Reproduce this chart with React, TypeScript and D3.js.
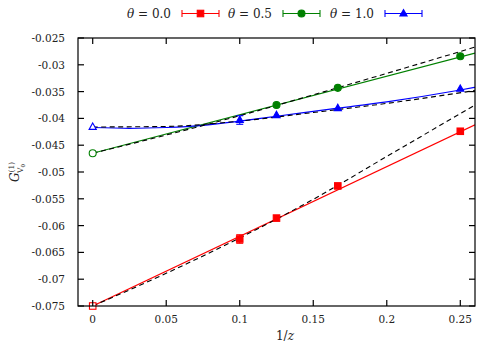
import React from "react";
import * as d3 from "d3";

// measured points: x = 1/z
const XS = [0, 0.1, 0.125, 0.1667, 0.25];
const RED = [-0.075, -0.0625, -0.0586, -0.0526, -0.0424];
const GREEN = [-0.0465, null, -0.0375, -0.0343, -0.0284];
const BLUE = [-0.0416, -0.0403, -0.0394, -0.0381, -0.0345];
const RED_ERR = [0, 0.0008, 0, 0, 0];
const GREEN_ERR = [0, 0, 0, 0, 0];
const BLUE_ERR = [0, 0.0008, 0, 0, 0];

// fit curves: [1/z, G]
const RED_FIT: [number, number][] = [[0, -0.075], [0.26, -0.0412]];
const GREEN_FIT: [number, number][] = [[0, -0.0465], [0.26, -0.0278]];
const BLUE_FIT: [number, number][] = [
  [0, -0.0417], [0.025, -0.04185], [0.05, -0.0417], [0.075, -0.0413], [0.1, -0.0405],
  [0.125, -0.0396], [0.1667, -0.0381], [0.2, -0.0369], [0.25, -0.0347], [0.26, -0.0342],
];
const RED_DASH: [number, number][] = [
  [0, -0.075], [0.05, -0.0689], [0.1, -0.0623], [0.15, -0.0551], [0.2, -0.0471], [0.26, -0.0375],
];
const GREEN_DASH: [number, number][] = [
  [0, -0.0465], [0.05, -0.0431], [0.1, -0.0395], [0.15, -0.0356], [0.2, -0.0316], [0.26, -0.0267],
];
const BLUE_DASH: [number, number][] = [
  [0, -0.0416], [0.05, -0.0415], [0.1, -0.0405], [0.15, -0.0389], [0.2, -0.0372], [0.26, -0.0348],
];

const X_TICKS = [0, 0.05, 0.1, 0.15, 0.2, 0.25];
const X_LABELS = ["0", "0.05", "0.1", "0.15", "0.2", "0.25"];
const Y_TICKS = [-0.025, -0.03, -0.035, -0.04, -0.045, -0.05, -0.055, -0.06, -0.065, -0.07, -0.075];
const Y_LABELS = ["-0.025", "-0.03", "-0.035", "-0.04", "-0.045", "-0.05", "-0.055", "-0.06", "-0.065", "-0.07", "-0.075"];
const THETAS = ["0.0", "0.5", "1.0"];

const W = 497;
const H = 348;
const L = 78, R = 475, T = 38, B = 306;
const FONT = '"DejaVu Serif", "Liberation Serif", serif';
const txt = (size: number) => ({ fontFamily: FONT, fontSize: size + "px", fill: "#222" });

const x = d3.scaleLinear().domain([-0.01, 0.26]).range([L, R]);
const y = d3.scaleLinear().domain([-0.075, -0.025]).range([B, T]);

const SERIES = [
  { name: "red", color: "#ff0000", vals: RED, err: RED_ERR, fit: RED_FIT, dash: RED_DASH, marker: "square" },
  { name: "green", color: "#008000", vals: GREEN, err: GREEN_ERR, fit: GREEN_FIT, dash: GREEN_DASH, marker: "circle" },
  { name: "blue", color: "#0000ff", vals: BLUE, err: BLUE_ERR, fit: BLUE_FIT, dash: BLUE_DASH, marker: "triangle" },
];

function Marker({ kind, cx, cy, color, open }: { kind: string; cx: number; cy: number; color: string; open: boolean }) {
  const fill = open ? "white" : color;
  if (kind === "square") {
    const s = 6.5;
    return <rect x={cx - s / 2} y={cy - s / 2} width={s} height={s} fill={fill} stroke={color} strokeWidth={1.1} />;
  }
  if (kind === "circle") {
    return <circle cx={cx} cy={cy} r={3.5} fill={fill} stroke={color} strokeWidth={1.1} />;
  }
  const p = d3.path();
  p.moveTo(cx, cy - 4);
  p.lineTo(cx + 3.6, cy + 2.4);
  p.lineTo(cx - 3.6, cy + 2.4);
  p.closePath();
  return <path d={p.toString()} fill={fill} stroke={color} strokeWidth={1.1} />;
}

export default function App() {
  const line = d3.line<[number, number]>().x((d) => x(d[0])).y((d) => y(d[1]));
  const curve = d3.line<[number, number]>().x((d) => x(d[0])).y((d) => y(d[1])).curve(d3.curveMonotoneX);

  const legendX = [182, 283, 385];

  return (
    <svg width={W} height={H} style={{ position: "absolute", left: 0, top: 0, background: "white" }}>
      <defs>
        <clipPath id="plot">
          <rect x={L} y={T} width={R - L} height={B - T} />
        </clipPath>
      </defs>

      {/* legend */}
      {SERIES.map((s, i) => {
        const lx = legendX[i];
        const mid = lx + 18.5;
        return (
          <g key={s.name}>
            <text x={lx - 11} y={18} textAnchor="end" style={txt(12)}>
              <tspan fontStyle="italic">θ</tspan> = {THETAS[i]}
            </text>
            <line x1={lx} x2={lx + 37} y1={13.5} y2={13.5} stroke={s.color} strokeWidth={1.1} />
            <line x1={lx} x2={lx} y1={10} y2={17} stroke={s.color} strokeWidth={1.1} />
            <line x1={lx + 37} x2={lx + 37} y1={10} y2={17} stroke={s.color} strokeWidth={1.1} />
            <Marker kind={s.marker} cx={mid} cy={13.5} color={s.color} open={false} />
          </g>
        );
      })}

      {/* curves */}
      <g clipPath="url(#plot)" fill="none">
        {SERIES.map((s) => (
          <path key={s.name + "fit"} d={(s.name === "blue" ? curve : line)(s.fit) || ""} stroke={s.color} strokeWidth={1.2} />
        ))}
        {SERIES.map((s) => (
          <path key={s.name + "dash"} d={curve(s.dash) || ""} stroke="#000" strokeWidth={1.1} strokeDasharray="5,3.5" />
        ))}
      </g>

      {/* points */}
      {SERIES.map((s) => (
        <g key={s.name + "pts"}>
          {s.vals.map((v, j) =>
            v === null ? null : (
              <g key={j}>
                {s.err[j] > 0 && (
                  <g stroke={s.color} strokeWidth={1.1}>
                    <line x1={x(XS[j])} x2={x(XS[j])} y1={y(v - s.err[j])} y2={y(v + s.err[j])} />
                    <line x1={x(XS[j]) - 3.5} x2={x(XS[j]) + 3.5} y1={y(v - s.err[j])} y2={y(v - s.err[j])} />
                    <line x1={x(XS[j]) - 3.5} x2={x(XS[j]) + 3.5} y1={y(v + s.err[j])} y2={y(v + s.err[j])} />
                  </g>
                )}
                <Marker kind={s.marker} cx={x(XS[j])} cy={y(v)} color={s.color} open={XS[j] === 0} />
              </g>
            )
          )}
        </g>
      ))}

      {/* frame and ticks */}
      <rect x={L} y={T} width={R - L} height={B - T} fill="none" stroke="#000" strokeWidth={1.2} />
      {X_TICKS.map((t, i) => (
        <g key={"xt" + i}>
          <line x1={x(t)} x2={x(t)} y1={B} y2={B - 6} stroke="#000" strokeWidth={1.2} />
          <line x1={x(t)} x2={x(t)} y1={T} y2={T + 6} stroke="#000" strokeWidth={1.2} />
          <text x={x(t)} y={323} textAnchor="middle" style={txt(10.5)}>{X_LABELS[i]}</text>
        </g>
      ))}
      {Y_TICKS.map((t, i) => (
        <g key={"yt" + i}>
          <line x1={L} x2={L + 6} y1={y(t)} y2={y(t)} stroke="#000" strokeWidth={1.2} />
          <line x1={R} x2={R - 6} y1={y(t)} y2={y(t)} stroke="#000" strokeWidth={1.2} />
          <text x={65} y={y(t) + 4} textAnchor="end" style={txt(10.5)}>{Y_LABELS[i]}</text>
        </g>
      ))}

      {/* axis titles */}
      <text x={285} y={340} textAnchor="middle" style={txt(12)}>
        1/<tspan fontStyle="italic">z</tspan>
      </text>
      <g transform="translate(19,172) rotate(-90)">
        <text x={0} y={0} textAnchor="middle" style={txt(12)}>
          <tspan fontStyle="italic">G</tspan>
          <tspan fontSize={7.5} dy={-5}>(1)</tspan>
          <tspan fontSize={7.5} dx={-11} dy={9}>V</tspan>
          <tspan fontSize={5.5} dy={2}>0</tspan>
        </text>
      </g>
    </svg>
  );
}
